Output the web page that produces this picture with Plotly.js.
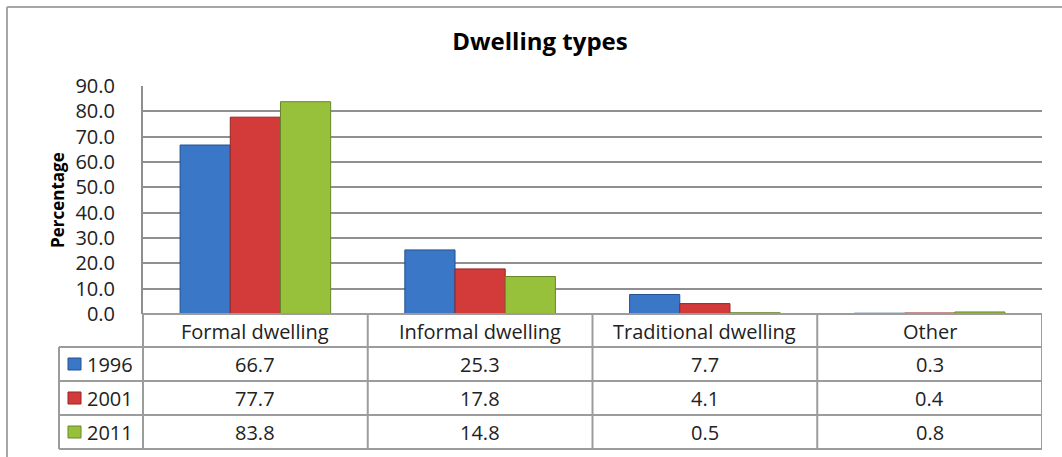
<!DOCTYPE html>
<html>
<head>
<meta charset="utf-8">
<script src="https://cdn.plot.ly/plotly-3.0.1.min.js"></script>
<style>body{margin:0;background:#fff;}</style>
</head>
<body>
<div id="chart" style="width:1062px;height:457px"></div>
<script>
const categories = ["Formal dwelling", "Informal dwelling", "Traditional dwelling", "Other"];
const years = ["1996", "2001", "2011"];
const v1996 = [66.7, 25.3, 7.7, 0.3];
const v2001 = [77.7, 17.8, 4.1, 0.4];
const v2011 = [83.8, 14.8, 0.5, 0.8];
const yTickVals = [0, 10, 20, 30, 40, 50, 60, 70, 80, 90];
const chartTitle = "Dwelling types";
const yTitle = "Percentage";

const series = [v1996, v2001, v2011];
const fill = ["#3a77c7", "#d33b3b", "#97c13b"];
const edge = ["#24528f", "#962424", "#66862a"];
const FONT = "'Open Sans', Lato, sans-serif";
const TXT = "#222222";
const GRID = "#8f8f8f";
const TBL = "#9c9c9c";

// geometry (pixels)
const W = 1062, H = 457;
const L = 143, R = 1042, T = 86, B = 314;
const pw = R - L, ph = B - T;
const px = x => (x - L) / pw;
const py = y => (B - y) / ph;

const traces = series.map((vals, i) => ({
  type: "bar",
  name: years[i],
  x: categories,
  y: vals,
  marker: { color: fill[i], line: { color: edge[i], width: 1 } },
  hoverinfo: "x+y+name"
}));

const shapes = [];
const annotations = [];
const hline = (y, x0, x1) => shapes.push({type: "line", xref: "paper", yref: "paper",
  x0: px(x0), x1: px(x1), y0: py(y), y1: py(y), line: {color: TBL, width: 2}});
const vline = (xref, x, y0, y1) => shapes.push({type: "line", xref: xref, yref: "paper",
  x0: x, x1: x, y0: py(y0), y1: py(y1), line: {color: TBL, width: 2}});

// outer frame (left & top)
shapes.push({type: "line", xref: "paper", yref: "paper", x0: px(7), x1: px(7), y0: py(7), y1: py(H + 5), line: {color: "#a6a6a6", width: 2}});
shapes.push({type: "line", xref: "paper", yref: "paper", x0: px(7), x1: px(W + 5), y0: py(7), y1: py(7), line: {color: "#a6a6a6", width: 2}});

// data table
const rowLines = [347, 381, 415, 449];
hline(B, L, R);
rowLines.forEach(y => hline(y, 59, R));
vline("paper", px(59), 347, 449);
vline("paper", px(L), B, 449);
[0.5, 1.5, 2.5, 3.5].forEach(x => vline("x", x, B, 449));

const TS = 20;
// header labels
categories.forEach(c => annotations.push({xref: "x", yref: "paper", x: c, y: py(331),
  text: c, showarrow: false, font: {family: FONT, size: TS, color: TXT}, yanchor: "middle"}));

// rows
const rowCenters = [364, 398, 432];
series.forEach((vals, i) => {
  vals.forEach((v, j) => annotations.push({xref: "x", yref: "paper", x: categories[j], y: py(rowCenters[i]),
    text: v.toFixed(1), showarrow: false, font: {family: FONT, size: TS, color: TXT}, yanchor: "middle"}));
  shapes.push({type: "rect", xref: "paper", yref: "paper", x0: px(68), x1: px(81),
    y0: py(rowCenters[i] - 6), y1: py(rowCenters[i] + 6), fillcolor: fill[i], line: {color: edge[i], width: 1}});
  annotations.push({xref: "paper", yref: "paper", x: px(85), y: py(rowCenters[i]), xanchor: "left", yanchor: "middle",
    text: years[i], showarrow: false, font: {family: FONT, size: TS, color: TXT}});
});

// y axis title
annotations.push({xref: "paper", yref: "paper", x: px(57), y: 0.5, xanchor: "center", yanchor: "middle",
  text: "<b>" + yTitle + "</b>", textangle: -90, showarrow: false, font: {family: FONT, size: 17, color: "#000"}});

const layout = {
  width: W, height: H, autosize: false,
  margin: {l: L, r: W - R, t: T, b: H - B, pad: 0},
  paper_bgcolor: "#fff", plot_bgcolor: "#fff",
  showlegend: false,
  barmode: "group", bargap: 0.33, bargroupgap: 0,
  title: {text: "<b>" + chartTitle + "</b>", xref: "paper", x: px(540), xanchor: "center",
    yref: "container", y: 1 - 42 / H, yanchor: "middle", font: {family: FONT, size: 24, color: "#000"}},
  font: {family: FONT, color: TXT},
  xaxis: {type: "category", categoryarray: categories, range: [-0.5, 3.5], showticklabels: false,
    showgrid: false, zeroline: false, showline: false, ticks: "", fixedrange: true},
  yaxis: {range: [0, 90], tickvals: yTickVals, tickformat: ".1f", showgrid: true, gridcolor: GRID, gridwidth: 2,
    zeroline: false, showline: true, linecolor: GRID, linewidth: 2, ticks: "", ticklabelstandoff: 22,
    tickfont: {family: FONT, size: TS, color: TXT}, fixedrange: true},
  shapes: shapes,
  annotations: annotations
};

Plotly.newPlot("chart", traces, layout, {displayModeBar: false, staticPlot: true});
</script>
</body>
</html>
